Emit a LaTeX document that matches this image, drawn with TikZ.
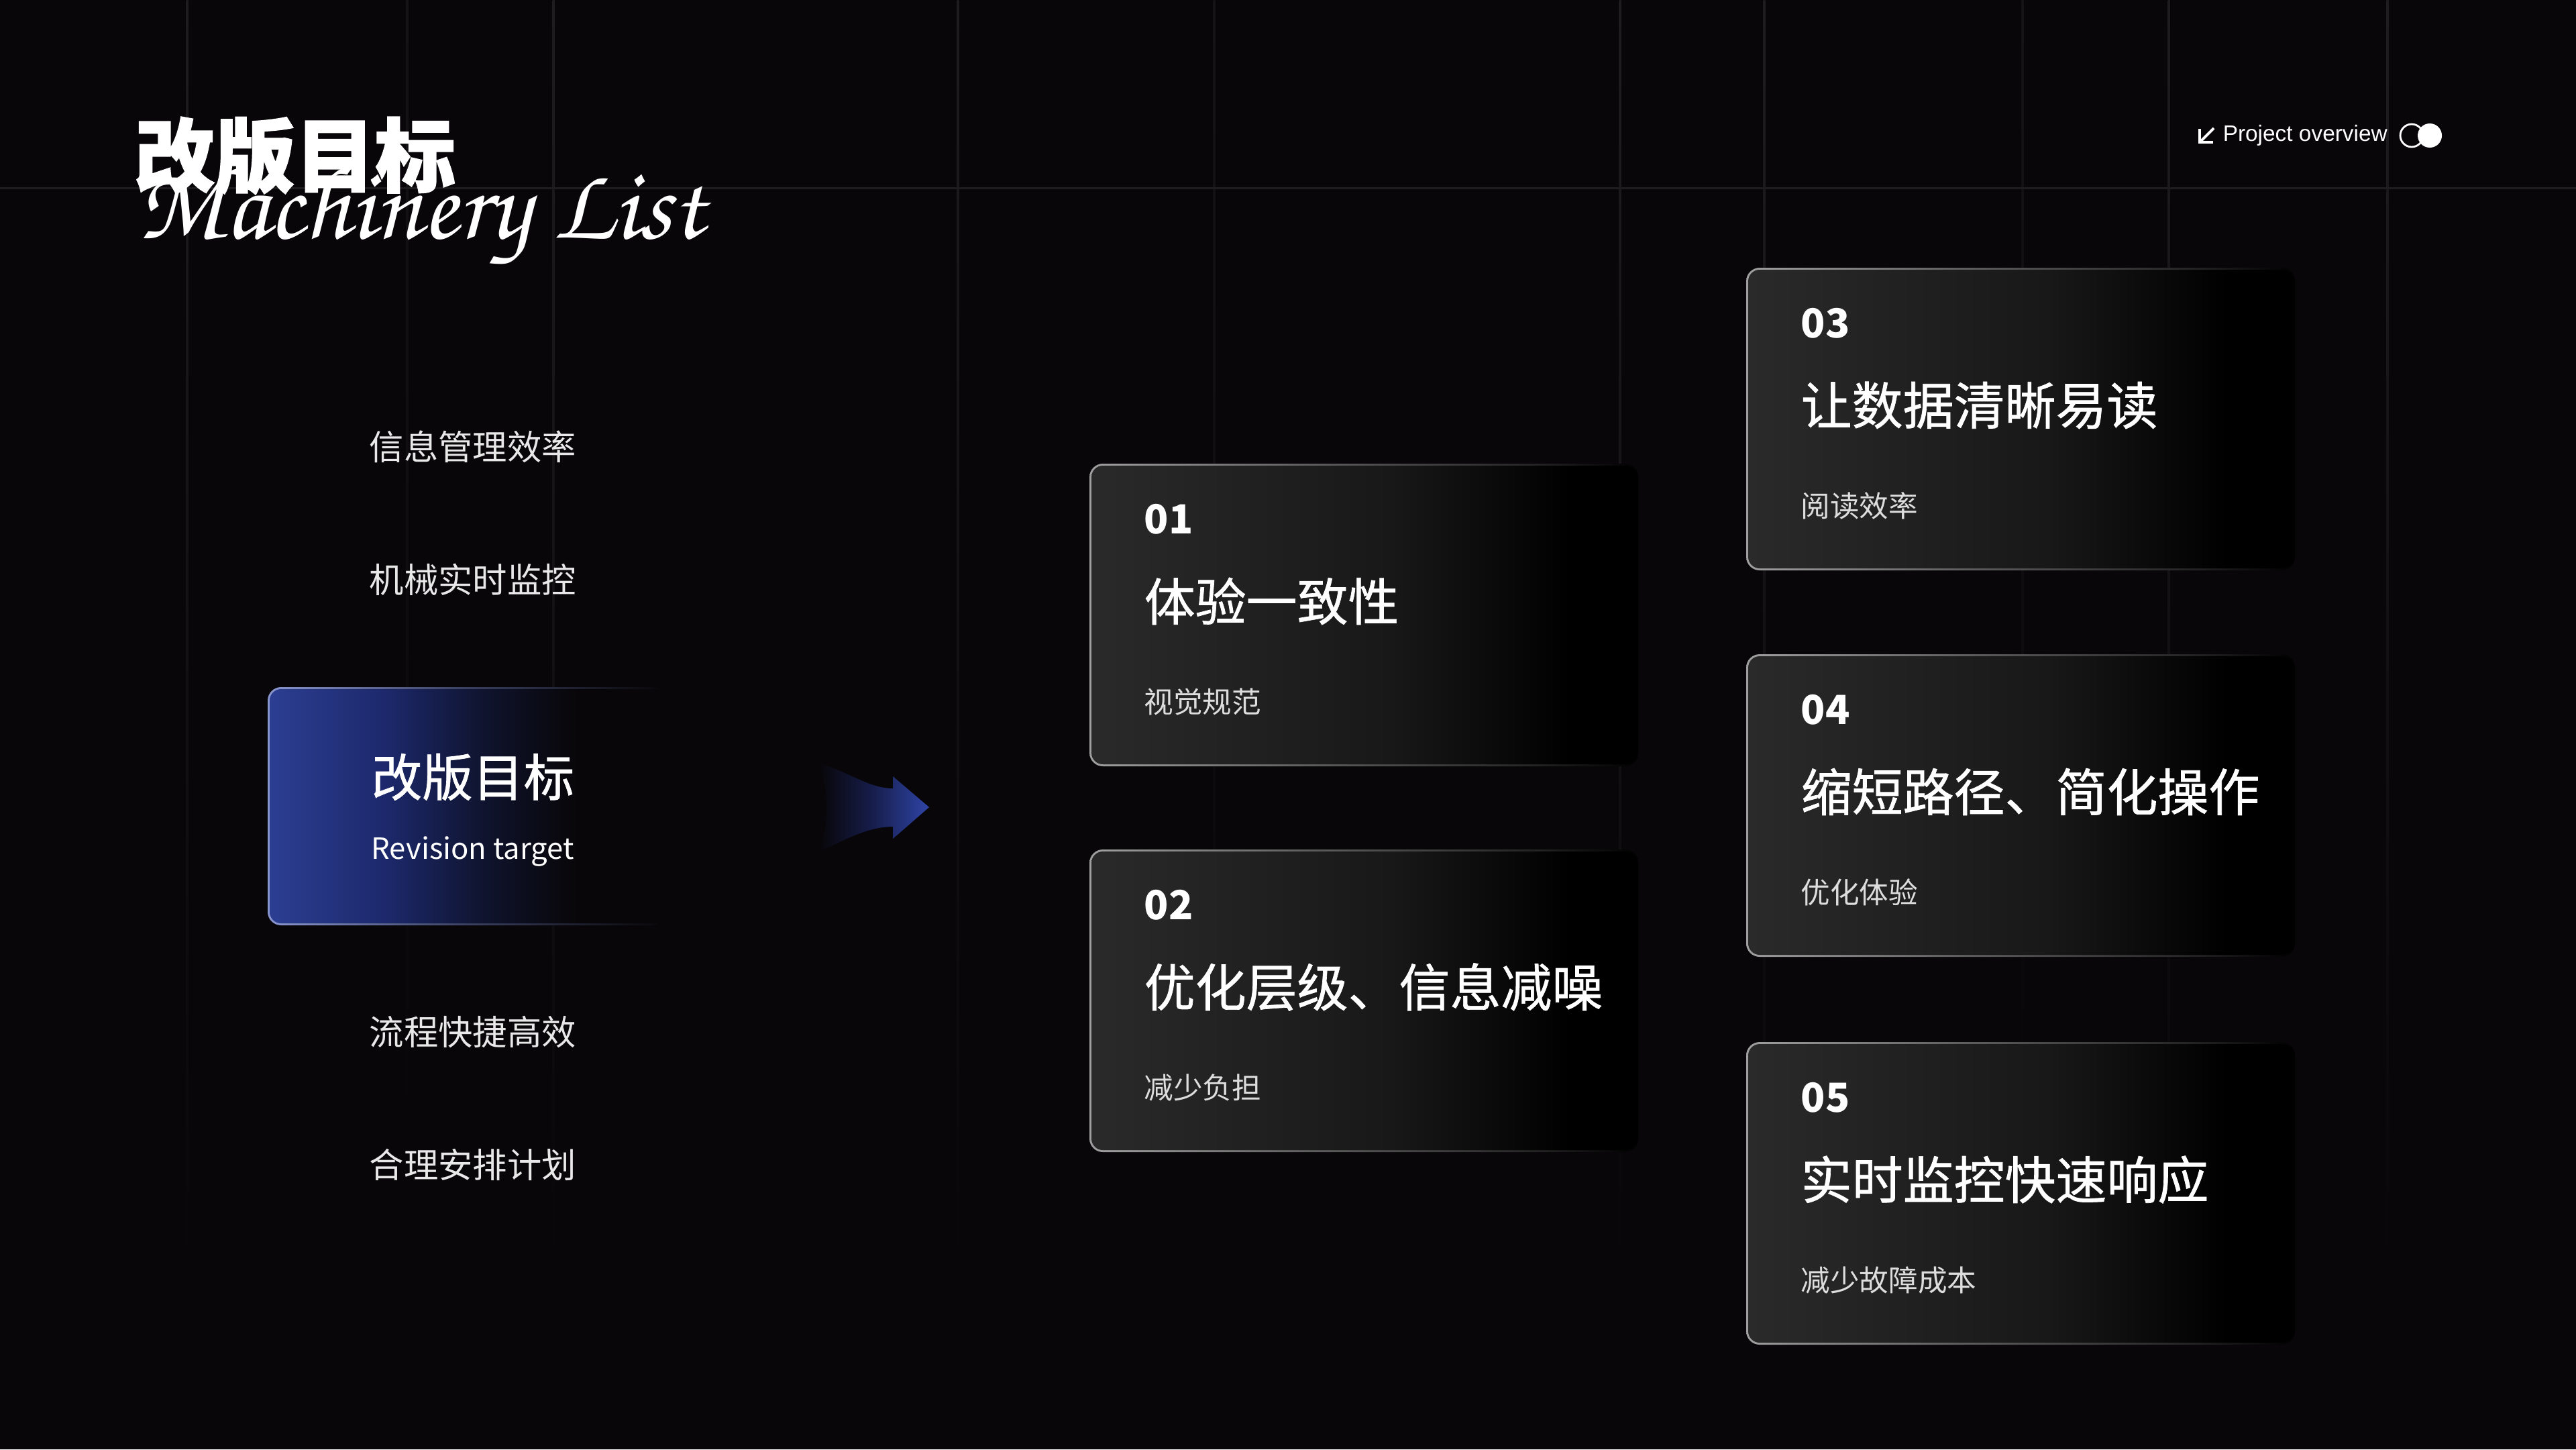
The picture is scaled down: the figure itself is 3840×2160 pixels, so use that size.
\documentclass[tikz,border=0pt]{standalone}
\usepackage[T1]{fontenc}
\usepackage{fontspec}
\setmainfont{Noto Sans CJK SC}
\newfontfamily\latinsans{Liberation Sans}
\newfontfamily\cjkmed{Noto Sans CJK SC}[FakeBold=0.9]
\newfontfamily\cjkheavy{Noto Sans CJK SC}[FakeBold=1.6]
\newcommand\handfont{\fontencoding{T1}\fontfamily{pzc}\fontseries{mb}\fontshape{it}\selectfont}
\definecolor{bgc}{HTML}{080608}
\definecolor{gridc}{HTML}{1E1C1E}
\definecolor{gridd}{HTML}{151315}
\definecolor{cardA}{HTML}{2A2A2A}
\definecolor{cardB}{HTML}{181818}
\definecolor{cardC}{HTML}{000000}
\definecolor{bordA}{HTML}{A0A0A0}
\definecolor{bordB}{HTML}{5E5E5E}
\definecolor{bordC}{HTML}{262626}
\definecolor{blueA}{HTML}{2C3E92}
\definecolor{blueB}{HTML}{1C286A}
\definecolor{blueC}{HTML}{0F132C}
\definecolor{bbordA}{HTML}{8A96CF}
\definecolor{bbordB}{HTML}{3A4060}
\definecolor{arrA}{HTML}{2F44A6}
\definecolor{arrB}{HTML}{151B45}
\definecolor{menuc}{HTML}{E8E8E8}
\definecolor{subc}{HTML}{DDDDDD}
% TikZ maps the path onto 25bp..75bp of a horizontal shading
\pgfdeclarehorizontalshading{cardfill}{100bp}{color(0bp)=(cardA); color(25bp)=(cardA); color(52.5bp)=(cardB); color(69bp)=(cardC); color(100bp)=(cardC)}
\pgfdeclarehorizontalshading{cardborder}{100bp}{color(0bp)=(bordA); color(25bp)=(bordA); color(45bp)=(bordB); color(65bp)=(bordC); color(75bp)=(cardC); color(100bp)=(cardC)}
\pgfdeclarehorizontalshading{boxfill}{100bp}{color(0bp)=(blueA); color(25bp)=(blueA); color(40bp)=(blueB); color(52.5bp)=(blueC); color(64bp)=(bgc); color(100bp)=(bgc)}
\pgfdeclarehorizontalshading{boxborder}{100bp}{color(0bp)=(bbordA); color(25bp)=(bbordA); color(50bp)=(bbordB); color(75bp)=(bgc); color(100bp)=(bgc)}
\pgfdeclarehorizontalshading{arrowshade}{100bp}{color(0bp)=(bgc); color(25bp)=(bgc); color(47.5bp)=(arrB); color(75bp)=(arrA); color(100bp)=(arrA)}
\tikzset{
  menuitem/.style={anchor=west, inner sep=0pt, text=menuc, font=\fontsize{14.6}{14.6}\selectfont},
  cardnum/.style={anchor=west, inner sep=0pt, text=white, font=\bfseries\fontsize{17}{17}\selectfont},
  cardtitle/.style={anchor=west, inner sep=0pt, text=white, font=\cjkmed\fontsize{21.6}{21.6}\selectfont},
  cardsub/.style={anchor=west, inner sep=0pt, text=subc, font=\fontsize{12.4}{12.4}\selectfont},
}
\newcommand\mycard[6]{%
  \shade[shading=cardborder, rounded corners=0.2cm] (#2,#3) rectangle ++(818,451);
  \shade[shading=cardfill, rounded corners=0.17cm] (#2+3,#3+3) rectangle ++(812,445);
  \coordinate (#1) at (#2,#3);
  \node[cardnum] (#1num) at (#2+81,#3+83) {#4};
  \node[cardtitle] (#1title) at (#2+81,#3+205) {#5};
  \node[cardsub] (#1sub) at (#2+81,#3+355) {#6};
}
\begin{document}
\begin{tikzpicture}[x=0.01cm,y=-0.01cm]
\useasboundingbox (0,0) rectangle (3840,2160);
\fill[bgc] (0,0) rectangle (3840,2160);
% grid
\foreach \gx in {279,825,1428,2415,2630,3233,3559}
  \shade[top color=gridc, bottom color=bgc] (\gx-1.5,0) rectangle (\gx+1.5,1900);
\foreach \gx in {607,1810,3015}
  \shade[top color=gridd, bottom color=bgc] (\gx-1.5,0) rectangle (\gx+1.5,1700);
\fill[gridc] (0,278.5) rectangle (3840,281.5);
% title
\node[anchor=west, inner sep=0pt, text=white, font=\cjkheavy\bfseries\fontsize{34}{34}\selectfont] (title) at (200,232) {改版目标};
\node[anchor=base west, inner sep=0pt, text=white, font=\handfont\fontsize{44}{44}\selectfont] (script) at (205,355) {Machinery List};
% top right
\node[anchor=west, inner sep=0pt, text=white, font=\latinsans\fontsize{9.5}{9.5}\selectfont] (proj) at (3313,202) {Project overview};
\coordinate (arrc) at (3279,212);
\draw[white, line width=1.1pt] (arrc) ++(0,-20) |- ++(20,20);
\draw[white, line width=1.1pt] (arrc) -- ++(21,-21);
\coordinate (tg1) at (3595,202);
\coordinate (tg2) at (3622,202);
\draw[white, line width=0.8pt] (tg1) circle[radius=17];
\fill[white] (tg2) circle[radius=18];
% menu
\node[menuitem] (m1) at (550,666) {信息管理效率};
\node[menuitem] (m2) at (550,864) {机械实时监控};
\node[menuitem] (m4) at (550,1538) {流程快捷高效};
\node[menuitem] (m5) at (550,1736) {合理安排计划};
% highlighted box
\shade[shading=boxborder, rounded corners=0.2cm] (399,1024) rectangle (992,1379);
\shade[shading=boxfill, rounded corners=0.17cm] (402,1027) rectangle (992,1376);
\node[anchor=west, inner sep=0pt, text=white, font=\cjkmed\fontsize{21.5}{21.5}\selectfont] (boxtitle) at (553,1158) {改版目标};
\node[anchor=west, inner sep=0pt, text=white, font=\fontsize{12.4}{12.4}\selectfont] (boxsub) at (553,1269) {Revision target};
% arrow
\shade[shading=arrowshade] (1220,1137) .. controls (1265,1150) and (1295,1175) .. (1331,1175) -- (1331,1157) -- (1385,1203) -- (1331,1250) -- (1331,1232) .. controls (1295,1232) and (1262,1250) .. (1220,1270) .. controls (1236,1230) and (1236,1180) .. (1220,1137) -- cycle;
% cards
\mycard{c1}{1624}{691}{01}{体验一致性}{视觉规范}
\mycard{c2}{1624}{1266}{02}{优化层级、信息减噪}{减少负担}
\mycard{c3}{2603}{399}{03}{让数据清晰易读}{阅读效率}
\mycard{c4}{2603}{975}{04}{缩短路径、简化操作}{优化体验}
\mycard{c5}{2603}{1553}{05}{实时监控快速响应}{减少故障成本}
\end{tikzpicture}
\end{document}
